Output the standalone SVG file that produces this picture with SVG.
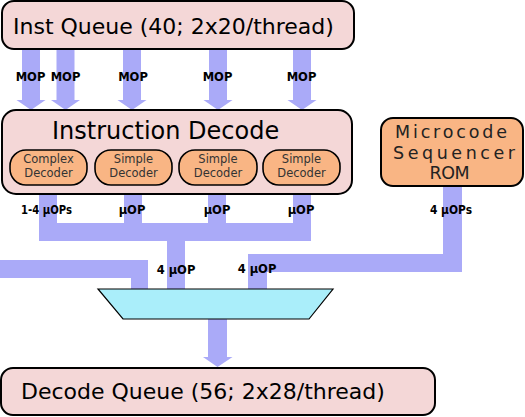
<svg xmlns="http://www.w3.org/2000/svg" width="525" height="417" viewBox="0 0 525 417">
<style>
.queue{fill:#f4d7d7;stroke:#000;stroke-width:2}
.dec{fill:#f9b584;stroke:#000;stroke-width:1.6}
.rom{fill:#f9b584;stroke:#000;stroke-width:2}
.flow{fill:#aaaaf8;stroke:none}
.mux{fill:#aaeefa;stroke:#000;stroke-width:1.2}
.big{font-family:"DejaVu Sans",sans-serif;font-size:22px;fill:#000}
.title{font-family:"DejaVu Sans",sans-serif;font-size:24px;fill:#000}
.small{font-family:"DejaVu Sans",sans-serif;font-size:11.5px;fill:#333;text-anchor:middle}
.romt{font-family:"DejaVu Sans",sans-serif;font-size:17.5px;fill:#222;text-anchor:middle}
.lbl{font-family:"DejaVu Sans",sans-serif;font-size:11.5px;font-weight:bold;fill:#000;text-anchor:middle}
</style>
<g id="connectors">
<path class="flow" d="M22,49H40V100H45.5L31,110L16.5,100H22Z"/>
<path class="flow" d="M56.5,49H74.5V100H80L65.5,110L51,100H56.5Z"/>
<path class="flow" d="M123,49H141V100H146.5L132,110L117.5,100H123Z"/>
<path class="flow" d="M209,49H227V100H232.5L218,110L203.5,100H209Z"/>
<path class="flow" d="M293,49H311V100H316.5L302,110L287.5,100H293Z"/>
<path class="flow" d="M39,194H57V223H124V194H142V223H208V194H226V223H293V194H311V241H185V289H167V241H39Z"/>
<path class="flow" d="M0,260H148V289H131V278H0Z"/>
<path class="flow" d="M443,186H462V272H267V289H248V254H443Z"/>
<path class="flow" d="M208,319H227V357H232.5L217.5,367L203,357H208Z"/>
</g>
<g id="labels">
<text class="lbl" x="30.5" y="81">MOP</text>
<text class="lbl" x="65.5" y="81">MOP</text>
<text class="lbl" x="133" y="81">MOP</text>
<text class="lbl" x="217.5" y="81">MOP</text>
<text class="lbl" x="301.5" y="81">MOP</text>
<text class="lbl" x="46.5" y="214" textLength="51" lengthAdjust="spacingAndGlyphs">1-4 µOPs</text>
<text class="lbl" x="132" y="214">µOP</text>
<text class="lbl" x="217" y="214">µOP</text>
<text class="lbl" x="301" y="214">µOP</text>
<text class="lbl" x="451" y="214" textLength="42" lengthAdjust="spacingAndGlyphs">4 µOPs</text>
<text class="lbl" x="176" y="274">4 µOP</text>
<text class="lbl" x="257" y="273">4 µOP</text>
</g>
<g id="inst-queue">
<rect class="queue" x="2" y="1" width="352" height="48" rx="12"/>
<text class="big" x="13" y="34">Inst Queue (40; 2x20/thread)</text>
</g>
<g id="instruction-decode">
<rect class="queue" x="2" y="110" width="350" height="84" rx="14"/>
<text class="title" x="52" y="139">Instruction Decode</text>
</g>
<g id="complex-decoder">
<rect class="dec" x="10" y="150" width="77" height="35" rx="16"/>
<text class="small" x="48.5" y="162.5">Complex</text>
<text class="small" x="48.5" y="176.5">Decoder</text>
</g>
<g id="simple-decoder-1">
<rect class="dec" x="95" y="150" width="77" height="35" rx="16"/>
<text class="small" x="133.5" y="162.5">Simple</text>
<text class="small" x="133.5" y="176.5">Decoder</text>
</g>
<g id="simple-decoder-2">
<rect class="dec" x="179" y="150" width="78" height="35" rx="16"/>
<text class="small" x="218" y="162.5">Simple</text>
<text class="small" x="218" y="176.5">Decoder</text>
</g>
<g id="simple-decoder-3">
<rect class="dec" x="263" y="150" width="77" height="35" rx="16"/>
<text class="small" x="301.5" y="162.5">Simple</text>
<text class="small" x="301.5" y="176.5">Decoder</text>
</g>
<g id="microcode-rom">
<rect class="rom" x="381" y="118" width="142" height="68" rx="12"/>
<text class="romt" x="451" y="138" textLength="112" lengthAdjust="spacing">Microcode</text>
<text class="romt" x="454" y="159" textLength="122" lengthAdjust="spacing">Sequencer</text>
<text class="romt" x="449.5" y="179" textLength="40" lengthAdjust="spacing">ROM</text>
</g>
<g id="mux">
<polygon class="mux" points="98,289 333,289 309,319 123,319"/>
</g>
<g id="decode-queue">
<rect class="queue" x="1" y="368" width="434" height="47" rx="12"/>
<text class="big" x="21" y="399">Decode Queue (56; 2x28/thread)</text>
</g>
</svg>
